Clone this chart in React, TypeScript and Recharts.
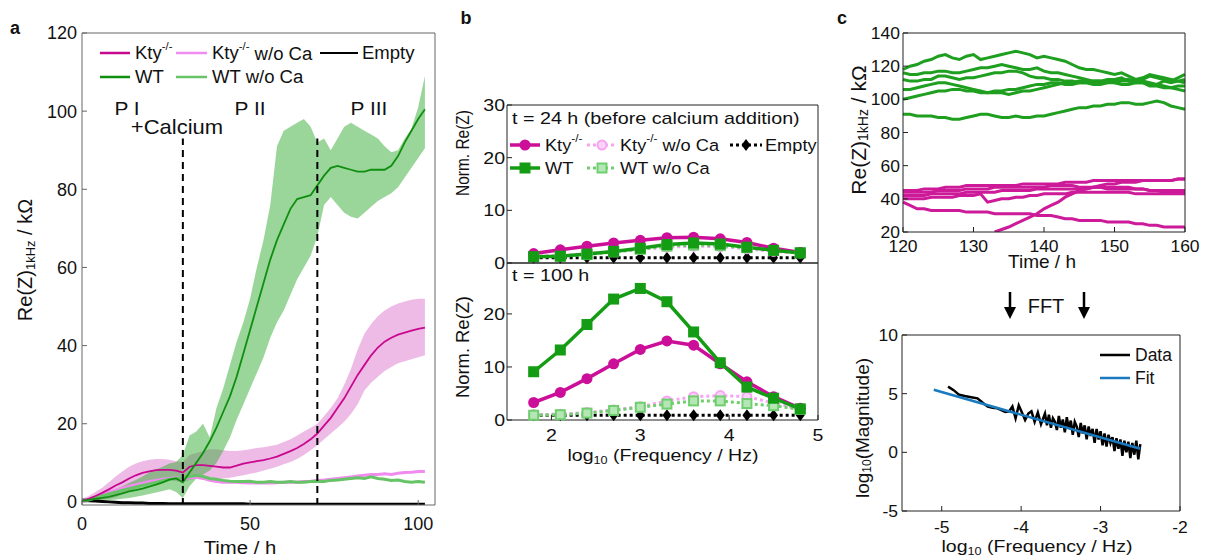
import React from 'react';
import { ComposedChart, LineChart, Line, Area, XAxis, YAxis, ReferenceLine } from 'recharts';

const FONT = "'Liberation Sans', Arial, Helvetica, sans-serif";

// ---------- Panel a ----------
const timeA = [0,2,4,6,8,10,12,14,16,18,20,22,24,26,28,30,32,34,36,38,40,42,44,46,48,50,52,54,56,58,60,62,64,66,68,70,72,74,76,78,80,82,84,86,88,90,92,94,96,98,100,102];
const wtMean = [0.3,0.5,0.8,1.0,1.3,1.7,2.2,2.7,3.0,3.4,3.9,4.4,5.0,5.7,6.0,5.0,7.5,10,12.5,15.5,19,23,27,32,38,44,50,56,62,67,71,75,77.5,78,78.5,81,83.5,85.5,86,85.5,85,84.5,84.5,85,85,85,86,88.5,92,95,98,100.5];
const wtLow = [0,0.1,0.2,0.3,0.4,0.6,0.8,1.0,1.3,1.6,2.0,2.4,2.8,3.2,2.5,1.0,4.0,6.0,7.0,8.0,10,13,16.5,21,25,29,33,37,42,46,49,53,57,60,63,68,76,78,76,74,73,72.5,74,75.5,77,78,79,80.5,83,85.5,88,90.5];
const wtHigh = [0.6,1.0,1.5,2.0,2.5,3.2,4.0,4.8,5.6,6.5,7.5,8.3,9.0,9.8,10.2,12,17,18,20,16.5,24,29,35,41,46,52,60,67,76,91,95,96,97,98,96,92,93,90,93,96,97,96,95,94,93,91,89.5,90,93,95.5,101,109];
const ktyMean = [0.3,0.8,1.5,2.3,3.2,4.2,5.0,6.0,6.8,7.4,7.8,8.1,8.2,8.2,8.0,7.5,9.0,9.4,9.4,9.2,9.0,8.8,8.8,9.3,9.8,10.1,10.4,10.7,11.1,11.6,12.3,13.0,13.8,14.8,16.0,17.5,19.5,21.5,24,26.5,29.5,32.5,35,37.5,39.5,41,42,42.8,43.3,43.8,44.3,44.6];
const ktyLow = [0,0.2,0.4,0.6,0.8,1.2,1.9,2.6,3.3,4.0,4.6,5.0,5.4,5.6,5.3,5.0,5.6,6.0,6.2,6.0,6.0,6.0,6.2,6.5,6.8,7.2,7.5,8.0,8.5,9.0,9.6,10.2,11.0,12.0,13.2,14.5,16.0,17.5,19,20.5,22.5,25,28.5,30.5,32,33.5,34.5,35.5,36,36.5,37,37.5];
const ktyHigh = [0.8,1.5,2.5,3.6,5.0,6.5,7.8,9.0,9.8,10.4,10.8,11.0,11.0,10.8,10.4,10.2,12.0,12.5,13.0,13.5,13.5,13.2,13.0,13.0,13.2,13.5,13.8,14.0,14.3,14.6,15.3,16.0,17.0,18.0,19.0,20.0,22,24,26.5,30,34,39,43,45.5,47.5,49,50,50.8,51.3,51.7,52,52];
const ktyNoCa = [0.3,0.7,1.2,1.8,2.4,3.0,3.5,4.0,4.4,4.8,5.2,5.5,5.8,6.0,6.2,6.0,6.2,6.3,6.0,5.5,5.2,5.0,5.0,5.0,4.9,4.8,4.9,4.8,4.8,4.9,5.0,5.0,5.0,5.2,5.3,5.5,5.6,5.8,6.0,6.2,6.4,6.6,6.8,7.0,7.0,7.2,7.0,7.3,7.5,7.6,7.8,7.8];
const wtNoCa = [0.2,0.5,1.0,1.5,2.0,2.5,3.0,3.4,3.8,4.2,4.6,5.0,5.4,5.8,6.0,6.2,6.5,6.8,6.5,6.0,5.8,5.5,5.3,5.2,5.2,5.3,5.0,5.0,5.2,5.0,5.0,5.2,5.0,5.0,5.2,5.3,5.2,5.5,5.6,5.8,6.0,6.2,6.0,6.4,6.0,5.8,5.5,5.6,5.2,5.0,5.2,5.0];
const emptyA = [0.5,0.3,0.2,0.1,0.0,-0.1,-0.2,-0.2,-0.3,-0.3,-0.4,-0.4,-0.4,-0.5,-0.5,-0.5,-0.5,-0.5,-0.5,-0.5,-0.5,-0.5,-0.5,-0.5,-0.5,-0.6,-0.6,-0.6,-0.6,-0.6,-0.6,-0.6,-0.6,-0.6,-0.6,-0.6,-0.6,-0.6,-0.6,-0.6,-0.6,-0.6,-0.6,-0.6,-0.6,-0.6,-0.6,-0.6,-0.6,-0.6,-0.6,-0.6];
const ticksAX = [0, 50, 100];
const ticksAY = [0, 20, 40, 60, 80, 100, 120];
const calciumTimes = [30, 70];

// ---------- Panel b ----------
const freqB = [1.8, 2.1, 2.4, 2.7, 3.0, 3.3, 3.6, 3.9, 4.2, 4.5, 4.8];
const kty24 = [1.8, 2.5, 3.2, 3.8, 4.3, 4.8, 4.9, 4.6, 3.9, 2.8, 2.0];
const wt24 = [1.2, 1.3, 1.7, 2.2, 2.8, 3.5, 3.8, 3.6, 3.0, 2.4, 1.9];
const ktyNoCa24 = [1.3, 1.4, 1.8, 2.2, 2.6, 3.0, 3.2, 3.1, 2.7, 2.2, 1.9];
const wtNoCa24 = [1.2, 1.3, 1.6, 2.1, 2.6, 3.2, 3.4, 3.3, 2.9, 2.4, 2.0];
const empty24 = [1, 1, 1, 1, 1, 1, 1, 1, 1, 1, 1];
const kty100 = [3.3, 5.2, 7.8, 10.6, 13.3, 14.9, 14.1, 10.6, 7.2, 4.4, 2.2];
const wt100 = [9.1, 13.2, 18.0, 22.8, 24.8, 22.3, 16.6, 10.8, 6.2, 4.1, 2.1];
const ktyNoCa100 = [1.0, 1.1, 1.4, 1.9, 2.5, 3.6, 4.4, 4.6, 4.4, 3.2, 2.1];
const wtNoCa100 = [0.9, 1.0, 1.3, 1.8, 2.4, 3.0, 3.6, 3.6, 3.1, 2.7, 2.0];
const empty100 = [0.9, 0.9, 0.9, 0.9, 0.9, 0.9, 0.9, 0.9, 0.9, 0.9, 0.9];
const ticksBX = [2, 3, 4, 5];

// ---------- Panel c (top) ----------
const timeC = [120,121,122,123,124,125,126,127,128,129,130,131,132,133,134,135,136,137,138,139,140,141,142,143,144,145,146,147,148,149,150,151,152,153,154,155,156,157,158,159,160];
const wtWell1 = [118,120,121,123,124,126,127,125,124,126,127,124,125,126,127,128,129,128,127,125,126,125,124,123,121,119,118,118,117,116,115,116,114,112,113,115,114,113,112,111,110];
const wtWell2 = [116,115,115,116,116,117,117,116,116,117,118,119,119,120,121,120,119,118,118,119,117,116,116,115,114,113,112,111,111,112,112,113,111,110,112,114,113,112,111,113,115];
const wtWell3 = [112,111,111,112,112,114,114,113,112,113,113,114,115,116,116,117,117,116,114,113,113,112,112,111,111,110,110,109,109,110,110,111,111,110,110,109,109,111,110,111,112];
const wtWell4 = [106,106,107,108,109,110,110,109,108,107,106,105,104,104,104,103,104,105,105,106,107,108,109,110,110,111,111,110,110,111,110,109,109,110,110,108,108,107,107,106,105];
const wtWell5 = [100,101,102,103,104,105,105,106,106,105,105,104,104,105,105,106,106,107,108,109,109,110,110,109,109,110,110,111,111,110,111,112,112,111,111,110,109,108,107,108,108];
const wtWell6 = [91,91,90,90,90,89,89,88,88,89,90,91,91,90,89,89,90,89,89,90,90,91,92,93,94,95,95,96,96,97,97,98,98,97,97,98,99,98,96,95,94];
const ktyWell1 = [45,45,45,46,46,46,47,47,47,48,48,48,48,48,48,48,48,49,49,49,49,49,49,50,50,50,50,51,51,51,51,51,51,51,51,51,51,51,51,52,52];
const ktyWell2 = [44,44,44,44,44,45,45,45,45,46,46,46,46,47,47,47,47,47,47,47,47,48,48,48,48,47,47,47,47,46,46,46,46,46,46,45,45,45,45,45,45];
const ktyWell3 = [42,42,42,42,43,43,43,43,43,44,44,44,44,44,45,45,45,45,45,46,46,46,46,46,46,46,46,47,47,47,47,47,47,46,46,45,45,44,44,44,44];
const ktyWell4 = [40,40,40,40,41,41,41,41,42,42,42,43,38,39,40,40,41,41,42,42,43,43,43,43,44,44,44,44,44,44,44,44,44,43,43,43,43,43,43,43,43];
const ktyWell5 = [38,36,34,34,33,33,33,33,33,32,32,32,32,31,31,31,31,31,31,30,30,30,29,28,28,27,27,27,27,26,26,26,26,25,25,24,24,23,23,23,23];
const ktyWell6 = [null,null,null,null,null,null,null,null,null,null,null,null,null,20,21.5,23,25,27,29,31,34,36,38,41,43,45,46,47,48,49,49,50,50,50,51,51,51,51,51,52,52];
const ticksCX = [120, 130, 140, 150, 160];
const ticksCY = [20, 40, 60, 80, 100, 120, 140];

// ---------- Panel c (bottom, FFT) ----------
const fftFreq = [-4.92,-4.85,-4.78,-4.71,-4.63,-4.55,-4.48,-4.42,-4.36,-4.30,-4.25,-4.20,-4.15,-4.11,-4.07,-4.03,-3.99,-3.95,-3.91,-3.87,-3.83,-3.79,-3.75,
  -3.700,-3.675,-3.650,-3.625,-3.600,-3.575,-3.550,-3.525,-3.500,-3.475,-3.450,-3.425,-3.400,-3.375,-3.350,-3.325,-3.300,-3.275,-3.250,-3.225,-3.200,-3.175,-3.150,-3.125,-3.100,-3.075,-3.050,-3.025,-3.000,-2.975,-2.950,-2.925,-2.900,-2.875,-2.850,-2.825,-2.800,-2.775,-2.750,-2.725,-2.700,-2.675,-2.650,-2.625,-2.600,-2.575,-2.550,-2.525,-2.500];
const fftMag = [5.6,5.3,4.9,4.8,4.7,4.6,4.2,3.9,3.8,3.75,3.6,3.45,3.5,3.9,2.9,4.0,3.4,2.75,3.3,3.5,2.6,3.4,2.4,
  3.3,2.3,3.2,2.1,2.9,2.6,1.9,3.1,2.1,2.8,1.7,3.0,2.0,2.7,1.5,2.6,2.2,1.3,2.5,1.6,2.3,1.1,2.2,1.4,2.0,0.8,2.0,1.1,1.8,0.6,1.6,0.5,1.5,0.8,1.3,0.1,1.2,0.3,1.1,-0.3,1.0,0.0,0.9,-0.5,0.8,-0.2,1.0,-0.6,0.7];
const fitFreq = [-5.1, -2.5];
const fitMag = [5.33, 0.3];
const ticksFX = [-5, -4, -3, -2];
const ticksFY = [-5, 0, 5, 10];

// ---------- colours ----------
const C = {
  mag: '#c8088f', magBand: '#d35cc2', pink: '#f08cf0',
  grn: '#0f8f0f', grnBand: '#35ab35', lgrn: '#66c466',
  bMag: '#cc0f99', bGrn: '#149c14', bPink: '#f7a4f2', bLgrn: '#6fcf6f',
  cGrn: '#1f9f1f', cMag: '#cc1a99', fit: '#1a7ac0', axis: '#222',
};

function makeTick(fs: number, sx: number, pos: 'left' | 'bottom') {
  return (props: any) => {
    const { x, y, payload, textAnchor } = props;
    return (
      <g transform={`translate(${x},${y}) scale(${sx},1)`}>
        <text x={0} y={0} dy={pos === 'bottom' ? '0.71em' : '0.355em'} textAnchor={textAnchor}
          fontSize={fs} fontFamily={FONT} fill="#111">{payload.value}</text>
      </g>
    );
  };
}

const rowsA = timeA.map((t, i) => ({
  t, wm: wtMean[i], wb: [wtLow[i], wtHigh[i]], km: ktyMean[i], kb: [ktyLow[i], ktyHigh[i]],
  kn: ktyNoCa[i], wn: wtNoCa[i], e: emptyA[i],
}));
const rowsB24 = freqB.map((f, i) => ({ f, k: kty24[i], w: wt24[i], kn: ktyNoCa24[i], wn: wtNoCa24[i], e: empty24[i] }));
const rowsB100 = freqB.map((f, i) => ({ f, k: kty100[i], w: wt100[i], kn: ktyNoCa100[i], wn: wtNoCa100[i], e: empty100[i] }));
const wellsG = [wtWell1, wtWell2, wtWell3, wtWell4, wtWell5, wtWell6];
const wellsM = [ktyWell1, ktyWell2, ktyWell3, ktyWell4, ktyWell5, ktyWell6];
const rowsC = timeC.map((t, i) => {
  const r: any = { t };
  wellsG.forEach((s, j) => { r['g' + j] = s[i]; });
  wellsM.forEach((s, j) => { r['m' + j] = s[i]; });
  return r;
});
const rowsF = [
  ...fftFreq.map((x, i) => ({ x, d: fftMag[i] as number | null, fit: null as number | null })),
  ...fitFreq.map((x, i) => ({ x, d: null as number | null, fit: fitMag[i] })),
].sort((a, b) => a.x - b.x);

// ---------- dot shapes ----------
const dotCircle = (fill: string, r: number, stroke?: string) => (p: any) =>
  <circle key={p.index} cx={p.cx} cy={p.cy} r={r} fill={fill} stroke={stroke || fill} strokeWidth={stroke ? 2 : 0} />;
const dotSquare = (fill: string, s: number, stroke?: string) => (p: any) =>
  <rect key={p.index} x={p.cx - s / 2} y={p.cy - s / 2} width={s} height={s} fill={fill} stroke={stroke || fill} strokeWidth={stroke ? 2 : 0} />;
const dotDiamond = (fill: string, s: number) => (p: any) =>
  <polygon key={p.index} points={`${p.cx},${p.cy - s} ${p.cx + s * 0.75},${p.cy} ${p.cx},${p.cy + s} ${p.cx - s * 0.75},${p.cy}`} fill={fill} />;

function BSeries() {
  return [
    <Line key="e" dataKey="e" stroke="#000" strokeWidth={3} strokeDasharray="3 3" dot={dotDiamond('#000', 6)} isAnimationActive={false} />,
    <Line key="kn" dataKey="kn" stroke={C.bPink} strokeWidth={3} strokeDasharray="3 3" dot={dotCircle('#fbd3f8', 4.5, C.bPink)} isAnimationActive={false} />,
    <Line key="wn" dataKey="wn" stroke={C.bLgrn} strokeWidth={3} strokeDasharray="3 3" dot={dotSquare('#b5e6b5', 9, C.bLgrn)} isAnimationActive={false} />,
    <Line key="k" dataKey="k" stroke={C.bMag} strokeWidth={3.5} dot={dotCircle(C.bMag, 5.5)} isAnimationActive={false} />,
    <Line key="w" dataKey="w" stroke={C.bGrn} strokeWidth={3.5} dot={dotSquare(C.bGrn, 11)} isAnimationActive={false} />,
  ];
}

function Txt(props: { x: number; y: number; fs?: number; sx?: number; rot?: number; anchor?: string; weight?: string; children: any }) {
  const { x, y, fs = 18, sx = 1, rot = 0, anchor = 'middle', weight, children } = props;
  return (
    <text transform={`translate(${x},${y}) rotate(${rot}) scale(${sx},1)`} fontSize={fs} textAnchor={anchor as any}
      dominantBaseline="central" fontFamily={FONT} fontWeight={weight} fill="#111">{children}</text>
  );
}

const sup = (s: string) => <tspan fontSize={11} dy={-7}>{s}</tspan>;

export default function App() {
  const box = (l: number, t: number): React.CSSProperties => ({ position: 'absolute', left: l, top: t });
  const tickA = makeTick(18, 1.0, 'left');
  const tickAX = makeTick(18, 1.0, 'bottom');
  const tickB = makeTick(17, 1.15, 'left');
  const tickBX = makeTick(17, 1.15, 'bottom');
  const tickC = makeTick(17, 1.03, 'left');
  const tickCX = makeTick(17, 1.03, 'bottom');
  const axA = '#666';
  return (
    <div style={{ position: 'absolute', left: 0, top: 0, width: 1206, height: 558, background: '#fff', fontFamily: FONT, overflow: 'hidden' }}>
      {/* Panel a */}
      <div style={box(22, 18)}>
        <ComposedChart width={424} height={527} data={rowsA} margin={{ top: 14, right: 10, bottom: 0, left: 0 }}>
          <XAxis dataKey="t" type="number" domain={[0, 105]} ticks={ticksAX} interval={0} height={40} tickSize={-5} tickMargin={17}
            tick={tickAX} stroke={axA} allowDataOverflow />
          <XAxis xAxisId="top" orientation="top" type="number" domain={[0, 105]} ticks={ticksAX} height={1} tickSize={-5} tick={false} stroke={axA} />
          <YAxis type="number" domain={[-0.8, 120]} ticks={ticksAY} interval={0} width={60} tickSize={-5} tickMargin={10} tick={tickA} stroke={axA} allowDataOverflow />
          <YAxis yAxisId="right" orientation="right" type="number" domain={[-0.8, 120]} ticks={ticksAY} width={1} tickSize={-5} tick={false} stroke={axA} />
          <Area dataKey="kb" type="linear" fill={C.magBand} fillOpacity={0.42} stroke="none" dot={false} activeDot={false} isAnimationActive={false} />
          <Area dataKey="wb" type="linear" fill={C.grnBand} fillOpacity={0.5} stroke="none" dot={false} activeDot={false} isAnimationActive={false} />
          <Line dataKey="e" type="linear" stroke="#000" strokeWidth={3} dot={false} isAnimationActive={false} />
          <Line dataKey="kn" type="linear" stroke={C.pink} strokeWidth={3} dot={false} isAnimationActive={false} />
          <Line dataKey="wn" type="linear" stroke={C.lgrn} strokeWidth={3} dot={false} isAnimationActive={false} />
          <Line dataKey="km" type="linear" stroke={C.mag} strokeWidth={1.8} dot={false} isAnimationActive={false} />
          <Line dataKey="wm" type="linear" stroke={C.grn} strokeWidth={1.8} dot={false} isAnimationActive={false} />
          {calciumTimes.map((x) => (
            <ReferenceLine key={x} segment={[{ x, y: -0.8 }, { x, y: 93 }]} stroke="#000" strokeWidth={2} strokeDasharray="7 5" />
          ))}
        </ComposedChart>
      </div>

      {/* Panel b top */}
      <div style={box(457, 92)}>
        <LineChart width={372} height={186} data={rowsB24} margin={{ top: 12, right: 10, bottom: 0, left: 0 }}>
          <XAxis dataKey="f" type="number" domain={[1.5, 5]} ticks={ticksBX} height={15} tickSize={-5} tick={false} stroke={C.axis} />
          <XAxis xAxisId="top" orientation="top" type="number" domain={[1.5, 5]} ticks={ticksBX} height={1} tickSize={-5} tick={false} stroke={C.axis} />
          <YAxis type="number" domain={[0, 30]} ticks={[0, 10, 20, 30]} interval={0} width={50} tickSize={-5} tickMargin={7} tick={tickB} stroke={C.axis} />
          <YAxis yAxisId="right" orientation="right" type="number" domain={[0, 30]} ticks={[0, 10, 20, 30]} width={1} tickSize={-5} tick={false} stroke={C.axis} />
          {BSeries()}
        </LineChart>
      </div>

      {/* Panel b bottom */}
      <div style={box(457, 250)}>
        <LineChart width={372} height={210} data={rowsB100} margin={{ top: 12, right: 10, bottom: 0, left: 0 }}>
          <XAxis dataKey="f" type="number" domain={[1.5, 5]} ticks={ticksBX} interval={0} height={40} tickSize={-5} tickMargin={14} tick={tickBX} stroke={C.axis} />
          <XAxis xAxisId="top" orientation="top" type="number" domain={[1.5, 5]} ticks={ticksBX} height={1} tickSize={-5} tick={false} stroke={C.axis} />
          <YAxis type="number" domain={[0, 29.6]} ticks={[0, 10, 20]} interval={0} width={50} tickSize={-5} tickMargin={7} tick={tickB} stroke={C.axis} />
          <YAxis yAxisId="right" orientation="right" type="number" domain={[0, 29.6]} ticks={[0, 10, 20]} width={1} tickSize={-5} tick={false} stroke={C.axis} />
          {BSeries()}
        </LineChart>
      </div>

      {/* Panel c top */}
      <div style={box(853, 20)}>
        <LineChart width={353} height={247} data={rowsC} margin={{ top: 12, right: 20, bottom: 0, left: 0 }}>
          <XAxis dataKey="t" type="number" domain={[120, 160]} ticks={ticksCX} interval={0} height={35} tickSize={-5} tickMargin={13} tick={tickCX} stroke={C.axis} />
          <XAxis xAxisId="top" orientation="top" type="number" domain={[120, 160]} ticks={ticksCX} height={1} tickSize={-5} tick={false} stroke={C.axis} />
          <YAxis type="number" domain={[20, 140]} ticks={ticksCY} interval={0} width={50} tickSize={-5} tickMargin={8} tick={tickC} stroke={C.axis} allowDataOverflow />
          <YAxis yAxisId="right" orientation="right" type="number" domain={[20, 140]} ticks={ticksCY} width={1} tickSize={-5} tick={false} stroke={C.axis} />
          {wellsG.map((_, j) => (
            <Line key={'g' + j} dataKey={'g' + j} type="linear" stroke={C.cGrn} strokeWidth={3} dot={false} isAnimationActive={false} />
          ))}
          {wellsM.map((_, j) => (
            <Line key={'m' + j} dataKey={'m' + j} type="linear" stroke={C.cMag} strokeWidth={3} dot={false} isAnimationActive={false} />
          ))}
        </LineChart>
      </div>

      {/* Panel c bottom */}
      <div style={box(852, 322)}>
        <LineChart width={339} height={224} data={rowsF} margin={{ top: 12, right: 10, bottom: 0, left: 0 }}>
          <XAxis dataKey="x" type="number" domain={[-5.5, -2]} ticks={ticksFX} interval={0} height={35} tickSize={-5} tickMargin={15} tick={tickCX} stroke={C.axis} />
          <XAxis xAxisId="top" orientation="top" type="number" domain={[-5.5, -2]} ticks={ticksFX} height={1} tickSize={-5} tick={false} stroke={C.axis} />
          <YAxis type="number" domain={[-5, 10]} ticks={ticksFY} interval={0} width={50} tickSize={-5} tickMargin={9} tick={tickC} stroke={C.axis} />
          <YAxis yAxisId="right" orientation="right" type="number" domain={[-5, 10]} ticks={ticksFY} width={1} tickSize={-5} tick={false} stroke={C.axis} />
          <Line dataKey="d" type="linear" stroke="#000" strokeWidth={2.5} dot={false} connectNulls isAnimationActive={false} />
          <Line dataKey="fit" type="linear" stroke={C.fit} strokeWidth={2.5} dot={false} connectNulls isAnimationActive={false} />
        </LineChart>
      </div>

      {/* Text, legends and annotations */}
      <svg width={1206} height={558} style={{ position: 'absolute', left: 0, top: 0, pointerEvents: 'none' }}>
        {/* panel letters */}
        <Txt x={15} y={28} fs={18} weight="bold">a</Txt>
        <Txt x={466} y={18} fs={18} weight="bold">b</Txt>
        <Txt x={842} y={18} fs={18} weight="bold">c</Txt>

        {/* panel a legend */}
        <line x1={100} x2={130} y1={53} y2={53} stroke={C.mag} strokeWidth={2.5} />
        <Txt x={135} y={53} anchor="start" sx={1.03}>Kty{sup('-/-')}</Txt>
        <line x1={176} x2={207} y1={53} y2={53} stroke={C.pink} strokeWidth={2.5} />
        <Txt x={212} y={53} anchor="start" sx={1.03}>Kty{sup('-/-')}<tspan dy={7}> w/o Ca</tspan></Txt>
        <line x1={320} x2={358} y1={53} y2={53} stroke="#000" strokeWidth={2} />
        <Txt x={362} y={53} anchor="start" sx={1.03}>Empty</Txt>
        <line x1={100} x2={130} y1={77} y2={77} stroke={C.grn} strokeWidth={2.5} />
        <Txt x={135} y={77} anchor="start" sx={1.03}>WT</Txt>
        <line x1={176} x2={207} y1={77} y2={77} stroke={C.lgrn} strokeWidth={2.5} />
        <Txt x={212} y={77} anchor="start" sx={1.03}>WT w/o Ca</Txt>

        {/* panel a annotations */}
        <Txt x={127} y={108} fs={19} sx={1.1}>P I</Txt>
        <Txt x={250} y={108} fs={19} sx={1.1}>P II</Txt>
        <Txt x={369} y={108} fs={19} sx={1.1}>P III</Txt>
        <Txt x={177} y={127} fs={20} sx={1.1}>+Calcium</Txt>
        <Txt x={240} y={547} fs={19} sx={1.07}>Time / h</Txt>
        <Txt x={25} y={260} fs={20} rot={-90}>Re(Z)<tspan fontSize={13} dy={5}>1kHz</tspan><tspan dy={-5}> / kΩ</tspan></Txt>

        {/* panel b */}
        <Txt x={512} y={118} fs={17} sx={1.16} anchor="start">t = 24 h (before calcium addition)</Txt>
        <Txt x={512} y={275} fs={17} sx={1.16} anchor="start">t = 100 h</Txt>
        <Txt x={463} y={153} fs={18} rot={-90} sx={0.86}>Norm. Re(Z)</Txt>
        <Txt x={463} y={347} fs={18} rot={-90} sx={1.02}>Norm. Re(Z)</Txt>
        <Txt x={663} y={455} fs={17} sx={1.15}>log<tspan fontSize={11} dy={5}>10</tspan><tspan dy={-5}> (Frequency / Hz)</tspan></Txt>
        {/* panel b legend */}
        <line x1={510} x2={540} y1={145} y2={145} stroke={C.bMag} strokeWidth={3.5} />
        <circle cx={525} cy={145} r={5.5} fill={C.bMag} />
        <Txt x={545} y={145} fs={17} sx={1.07} anchor="start">Kty{sup('-/-')}</Txt>
        <line x1={587} x2={617} y1={145} y2={145} stroke={C.bPink} strokeWidth={3} strokeDasharray="3 3" />
        <circle cx={602} cy={145} r={4.5} fill="#fbd3f8" stroke={C.bPink} strokeWidth={2} />
        <Txt x={620} y={145} fs={17} sx={1.07} anchor="start">Kty{sup('-/-')}<tspan dy={7}> w/o Ca</tspan></Txt>
        <line x1={730} x2={762} y1={145} y2={145} stroke="#000" strokeWidth={3} strokeDasharray="3 3" />
        <polygon points="746,139 750.5,145 746,151 741.5,145" fill="#000" />
        <Txt x={765} y={145} fs={17} sx={1.07} anchor="start">Empty</Txt>
        <line x1={510} x2={540} y1={168} y2={168} stroke={C.bGrn} strokeWidth={3.5} />
        <rect x={519.5} y={162.5} width={11} height={11} fill={C.bGrn} />
        <Txt x={545} y={168} fs={17} sx={1.07} anchor="start">WT</Txt>
        <line x1={587} x2={617} y1={168} y2={168} stroke={C.bLgrn} strokeWidth={3} strokeDasharray="3 3" />
        <rect x={597.5} y={163.5} width={9} height={9} fill="#b5e6b5" stroke={C.bLgrn} strokeWidth={2} />
        <Txt x={620} y={168} fs={17} sx={1.07} anchor="start">WT w/o Ca</Txt>

        {/* panel c */}
        <Txt x={858} y={130} fs={21} rot={-90}>Re(Z)<tspan fontSize={14} dy={5}>1kHz</tspan><tspan dy={-5}> / kΩ</tspan></Txt>
        <Txt x={1042} y={261} fs={19} sx={1.0}>Time / h</Txt>
        <line x1={1010} x2={1010} y1={292} y2={310} stroke="#000" strokeWidth={2.5} />
        <polygon points="1004,307 1016,307 1010,319" fill="#000" />
        <Txt x={1046} y={306} fs={20}>FFT</Txt>
        <line x1={1084} x2={1084} y1={292} y2={310} stroke="#000" strokeWidth={2.5} />
        <polygon points="1078,307 1090,307 1084,319" fill="#000" />
        <Txt x={862} y={428} fs={19} rot={-90}>log<tspan fontSize={12} dy={5}>10</tspan><tspan dy={-5}>(Magnitude)</tspan></Txt>
        <Txt x={1037} y={546} fs={17} sx={1.15}>log<tspan fontSize={11} dy={5}>10</tspan><tspan dy={-5}> (Frequency / Hz)</tspan></Txt>
        <line x1={1100} x2={1130} y1={355} y2={355} stroke="#000" strokeWidth={2.5} />
        <Txt x={1135} y={355} fs={17.5} anchor="start">Data</Txt>
        <line x1={1100} x2={1130} y1={378} y2={378} stroke={C.fit} strokeWidth={2.5} />
        <Txt x={1135} y={378} fs={17.5} anchor="start">Fit</Txt>
      </svg>
    </div>
  );
}
